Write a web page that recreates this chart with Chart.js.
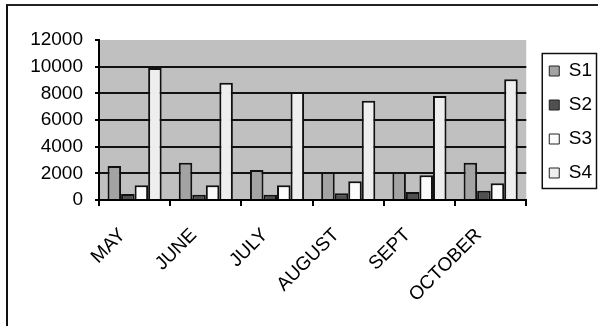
<!DOCTYPE html>
<html>
<head>
<meta charset="utf-8">
<script src="https://cdn.jsdelivr.net/npm/chart.js@4.4.1/dist/chart.umd.min.js"></script>
<style>
  html, body { margin: 0; padding: 0; background: #fff; overflow: hidden; }
  #frame {
    position: absolute; left: 6px; top: 4px; width: 800px; height: 600px;
    border-left: 2px solid #111; border-top: 2px solid #222;
  }
  #wrap { position: absolute; left: 0; top: 0; width: 598px; height: 326px; }
</style>
</head>
<body>
<div id="frame"></div>
<div id="wrap"><canvas id="c" width="598" height="326"></canvas></div>
<script>
const months = ['MAY', 'JUNE', 'JULY', 'AUGUST', 'SEPT', 'OCTOBER'];
const s1 = [2550, 2800, 2250, 2100, 2100, 2800];
const s2 = [450, 400, 400, 500, 600, 700];
const s3 = [1100, 1100, 1100, 1400, 1850, 1250];
const s4 = [9900, 8800, 8100, 7450, 7800, 9050];
const yTicks = [0, 2000, 4000, 6000, 8000, 10000, 12000];

const FONT = '"Liberation Sans", Arial, sans-serif';
Chart.defaults.font.family = FONT;
Chart.defaults.font.size = 19;
Chart.defaults.color = '#000';

// grey plot area, legend nudged right, and a frame round the legend
const plotDecor = {
  id: 'plotDecor',
  afterLayout(chart) {
    const lg = chart.legend;
    if (lg) { lg.left += 8; lg.right += 8; lg.top += 2; lg.bottom += 2; }
  },
  beforeDraw(chart) {
    const a = chart.chartArea, ctx = chart.ctx;
    ctx.save();
    ctx.fillStyle = '#c0c0c0';
    ctx.fillRect(a.left, a.top, a.right - a.left, a.bottom - a.top);
    ctx.restore();
  },
  afterDraw(chart) {
    const hb = chart.legend && chart.legend.legendHitBoxes;
    if (!hb || !hb.length) return;
    const ctx = chart.ctx;
    const left = Math.min(...hb.map(b => b.left)) - 7;
    const top = hb[0].top - 8;
    const last = hb[hb.length - 1];
    const bottom = last.top + last.height + 6;
    const right = chart.width - 1.5;
    ctx.save();
    ctx.strokeStyle = '#111';
    ctx.lineWidth = 1.5;
    ctx.strokeRect(left, top, right - left, bottom - top);
    ctx.restore();
  }
};

const border = '#111';
function ds(label, data, color) {
  return { label, data, backgroundColor: color, borderColor: border, borderWidth: 2,
           borderSkipped: 'bottom', categoryPercentage: 0.76, barPercentage: 1.0 };
}

new Chart(document.getElementById('c'), {
  type: 'bar',
  data: {
    labels: months,
    datasets: [
      ds('S1', s1, '#a3a3a3'),
      ds('S2', s2, '#505050'),
      ds('S3', s3, '#fbfbfb'),
      ds('S4', s4, '#eeeeee')
    ]
  },
  options: {
    responsive: false,
    animation: false,
    layout: { padding: { top: 40, left: 0, right: 4, bottom: 0 } },
    plugins: {
      tooltip: { enabled: false },
      legend: {
        position: 'right',
        fullSize: false,
        align: 'center',
        labels: {
          boxWidth: 10, boxHeight: 10, padding: 15,
          font: { size: 19 },
          generateLabels(chart) {
            const items = Chart.defaults.plugins.legend.labels.generateLabels(chart);
            items.forEach(it => { it.lineWidth = 1; it.strokeStyle = '#222'; });
            return items;
          }
        }
      }
    },
    scales: {
      x: {
        grid: { drawOnChartArea: false, drawTicks: true, tickLength: 6, offset: true,
                color: '#000', lineWidth: 2 },
        border: { color: '#000', width: 2 },
        ticks: { autoSkip: false, minRotation: 45, maxRotation: 45, labelOffset: -12,
                 padding: 18, font: { size: 19 } },
        afterFit(scale) { scale.height = 126; }
      },
      y: {
        min: 0, max: 12000,
        afterBuildTicks(scale) { scale.ticks = yTicks.map(v => ({ value: v })); },
        grid: {
          color: ctx => (ctx.tick && ctx.tick.value === 12000) ? 'rgba(0,0,0,0)' : '#111',
          tickColor: '#000', lineWidth: 2, tickLength: 4
        },
        border: { color: '#000', width: 2 },
        ticks: { padding: 12, font: { size: 19 }, callback: v => String(v) },
        afterFit(scale) { scale.width = 99; }
      }
    }
  },
  plugins: [plotDecor]
});
</script>
</body>
</html>
